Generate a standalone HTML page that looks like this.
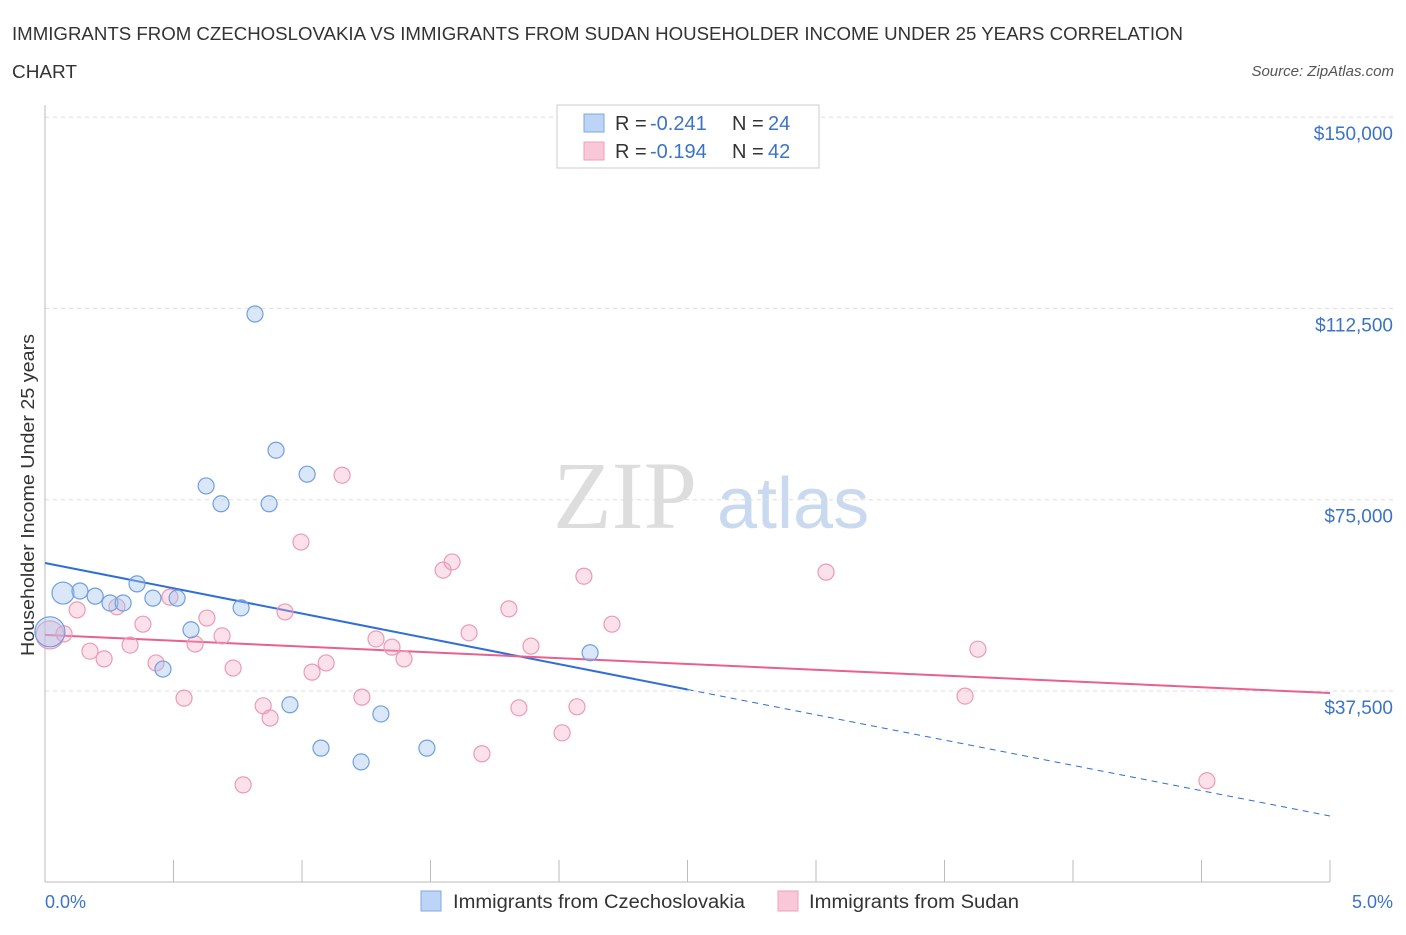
<!DOCTYPE html>
<html><head><meta charset="utf-8"><style>
body{margin:0;background:#fff;font-family:"Liberation Sans",sans-serif;}
svg text{font-family:"Liberation Sans",sans-serif;}
</style></head><body>
<svg id="chart" width="1406" height="930" xmlns="http://www.w3.org/2000/svg">
<text x="12" y="40" font-size="18" fill="#333" textLength="1171" lengthAdjust="spacingAndGlyphs">IMMIGRANTS FROM CZECHOSLOVAKIA VS IMMIGRANTS FROM SUDAN HOUSEHOLDER INCOME UNDER 25 YEARS CORRELATION</text>
<text x="12" y="78" font-size="18" fill="#333" textLength="65" lengthAdjust="spacingAndGlyphs">CHART</text>
<text x="1394" y="76" font-size="15" fill="#555" text-anchor="end" font-style="italic">Source: ZipAtlas.com</text>
<text x="553" y="528" font-size="96" fill="#ddd" font-family="Liberation Serif" style="font-family:'Liberation Serif',serif">ZIP</text>
<text x="717" y="528" font-size="72" fill="#c9daf0">atlas</text>
<g id="grid"></g><g id="axes"></g><g id="trends"></g><g id="pts"></g>
<text transform="translate(34,495) rotate(-90)" font-size="18" fill="#333" text-anchor="middle" textLength="322" lengthAdjust="spacingAndGlyphs">Householder Income Under 25 years</text>
<text x="45" y="908" font-size="18" fill="#3b73c8">0.0%</text>
<text x="1393" y="908" font-size="18" fill="#3b73c8" text-anchor="end">5.0%</text>
<g>
<rect x="557" y="105" width="262" height="63" fill="#fff" stroke="#ccc"/>
<rect x="584" y="114" width="20" height="18" fill="#bcd4f5" stroke="#7fa8e0"/>
<rect x="584" y="142" width="20" height="18" fill="#f9c8d8" stroke="#eda0ba"/>
<text x="615" y="130" font-size="20" fill="#333">R = </text><text x="650" y="130" font-size="20" fill="#3b73c8">-0.241</text>
<text x="732" y="130" font-size="20" fill="#333">N = </text><text x="768" y="130" font-size="20" fill="#3b73c8">24</text>
<text x="615" y="158" font-size="20" fill="#333">R = </text><text x="650" y="158" font-size="20" fill="#3b73c8">-0.194</text>
<text x="732" y="158" font-size="20" fill="#333">N = </text><text x="768" y="158" font-size="20" fill="#3b73c8">42</text>
</g>
<g>
<rect x="421" y="891" width="20" height="20" fill="#bcd4f5" stroke="#7fa8e0"/>
<text x="453" y="908" font-size="19" fill="#333" textLength="292" lengthAdjust="spacingAndGlyphs">Immigrants from Czechoslovakia</text>
<rect x="778" y="891" width="20" height="20" fill="#f9c8d8" stroke="#eda0ba"/>
<text x="809" y="908" font-size="19" fill="#333" textLength="210" lengthAdjust="spacingAndGlyphs">Immigrants from Sudan</text>
</g>
</svg>
<script>
const yTicks=[37500,75000,112500,150000];
const yTickLabels=["$37,500","$75,000","$112,500","$150,000"];
const xTicks=[0,0.5,1,1.5,2,2.5,3,3.5,4,4.5,5];
const blueX=[.019,.070,.136,.195,.253,.304,.358,.420,.459,.514,.568,.627,.685,.763,.817,.872,.899,.953,1.020,1.074,1.230,1.307,1.486,2.121];
const blueY=[49.1,56.7,57.1,56.1,54.75,54.75,58.5,55.7,41.8,55.7,49.5,77.7,74.2,53.8,111.4,74.2,84.7,34.8,80.0,26.3,23.6,33.0,26.3,45.0];
const blueR=[15,11,8,8,8,8,8,8,8,8,8,8,8,8,8,8,8,8,8,8,8,8,8,8];
const pinkX=[.019,.074,.125,.175,.230,.280,.331,.381,.432,.486,.541,.584,.630,.689,.732,.771,.849,.876,.934,.996,1.039,1.094,1.156,1.233,1.288,1.350,1.397,1.549,1.584,1.650,1.700,1.805,1.844,1.891,2.012,2.070,2.097,2.206,3.039,3.580,3.630,4.521];
const pinkY=[48.5,48.7,53.4,45.3,43.8,54.0,46.5,50.6,43.0,55.9,36.1,46.7,51.8,48.3,42.0,19.1,34.6,32.2,53.0,66.7,41.2,43.0,79.8,36.3,47.7,46.1,43.8,61.2,62.8,48.9,25.2,53.6,34.2,46.3,29.3,34.4,60.0,50.6,60.8,36.5,45.7,19.9];
const pinkR=[14,8,8,8,8,8,8,8,8,8,8,8,8,8,8,8,8,8,8,8,8,8,8,8,8,8,8,8,8,8,8,8,8,8,8,8,8,8,8,8,8,8];
const blueTrend=[62.6,13.0];
const pinkTrend=[48.5,37.1];
const NS="http://www.w3.org/2000/svg";
const X=p=>45+p/5*1285;
const Y=v=>882.3-v/37500*191.3;
const Yk=k=>Y(k*1000);
function mk(t,a,parent){const e=document.createElementNS(NS,t);for(const k in a)e.setAttribute(k,a[k]);document.getElementById(parent).appendChild(e);return e;}
yTicks.forEach((v,i)=>{
 const l=mk('line',{x1:45,x2:1393,y1:Y(v),y2:Y(v),stroke:'#ddd','stroke-dasharray':'4,4'},'grid');
 
 
 const t=mk('text',{x:1393,y:Y(v)+23,'font-size':19,fill:'#3b73c8','text-anchor':'end'},'grid');
 t.textContent=yTickLabels[i];
 
 
});
const ax=mk('line',{x1:45,x2:1330,y1:882,y2:882,stroke:'#bbb'},'axes');


const ay=mk('line',{x1:45,x2:45,y1:105,y2:882,stroke:'#bbb'},'axes');


xTicks.forEach(p=>{const t=mk('line',{x1:X(p),x2:X(p),y1:860,y2:882,stroke:'#bbb'},'axes');
 
 });
function dot(x,y,r,f,s,name){const c=mk('circle',{cx:X(x),cy:Yk(y),r:r,fill:f,stroke:s,'stroke-width':1.2},'pts');
 
 }
pinkX.forEach((x,i)=>dot(x,pinkY[i],pinkR[i],'rgba(246,170,196,0.35)','#ec9ab6','sudan-point'));
blueX.forEach((x,i)=>dot(x,blueY[i],blueR[i],'rgba(160,195,240,0.4)','#6f9fe0','czechoslovakia-point'));
const by=p=>blueTrend[0]+(blueTrend[1]-blueTrend[0])*p/5;
const b1=mk('line',{x1:X(0),y1:Yk(by(0)),x2:X(2.5),y2:Yk(by(2.5)),stroke:'#2f6fd6','stroke-width':2},'trends');


const b2=mk('line',{x1:X(2.5),y1:Yk(by(2.5)),x2:X(5),y2:Yk(by(5)),stroke:'#2f6fd6','stroke-width':1,'stroke-dasharray':'6,5'},'trends');


const p1=mk('line',{x1:X(0),y1:Yk(pinkTrend[0]),x2:X(5),y2:Yk(pinkTrend[1]),stroke:'#e8608e','stroke-width':2},'trends');


</script>
</body></html>
